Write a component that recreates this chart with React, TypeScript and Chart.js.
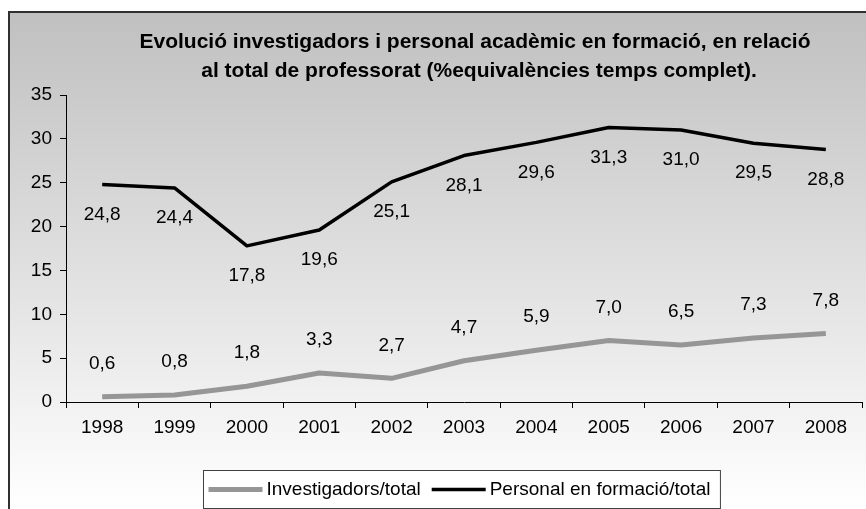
import React, { useEffect, useRef } from "react";
import { Chart, registerables } from "chart.js";

Chart.register(...registerables);

const years = ["1998", "1999", "2000", "2001", "2002", "2003", "2004", "2005", "2006", "2007", "2008"];
const investigadors = [0.6, 0.8, 1.8, 3.3, 2.7, 4.7, 5.9, 7.0, 6.5, 7.3, 7.8];
const personal = [24.8, 24.4, 17.8, 19.6, 25.1, 28.1, 29.6, 31.3, 31.0, 29.5, 28.8];
const titleLines = [
  "Evolució investigadors i personal acadèmic en formació, en relació",
  "al total de professorat (%equivalències temps complet).",
];
const seriesLabels = ["Investigadors/total", "Personal en formació/total"];
const seriesColors = ["#969696", "#000000"];
const seriesWidths = [5, 3.5];
const labelOffsets = [-33, 30];

const FONT = "'Liberation Sans', Arial, sans-serif";

const framePlugin = {
  id: "frame",
  beforeDraw(chart: any) {
    const { ctx, width, height } = chart;
    ctx.save();
    const g = ctx.createLinearGradient(0, 11, 0, height);
    g.addColorStop(0, "#c0c0c0");
    g.addColorStop(0.55, "#e2e2e2");
    g.addColorStop(1, "#ffffff");
    ctx.fillStyle = "#ffffff";
    ctx.fillRect(0, 0, width, height);
    ctx.fillStyle = g;
    ctx.fillRect(9, 12, width + 20, height + 20);
    ctx.strokeStyle = "#303030";
    ctx.lineWidth = 2;
    ctx.strokeRect(9, 12, width + 20, height + 20);
    ctx.restore();
  },
};

const titlePlugin = {
  id: "customTitle",
  afterDraw(chart: any) {
    const { ctx } = chart;
    ctx.save();
    ctx.font = `bold 21px ${FONT}`;
    ctx.fillStyle = "#000";
    ctx.textAlign = "center";
    ctx.textBaseline = "alphabetic";
    ctx.fillText(titleLines[0], 475, 48);
    ctx.fillText(titleLines[1], 479, 77);
    ctx.restore();
  },
};

const valueLabelPlugin = {
  id: "valueLabels",
  afterDatasetsDraw(chart: any) {
    const { ctx } = chart;
    ctx.save();
    ctx.font = `19px ${FONT}`;
    ctx.fillStyle = "#000";
    ctx.textAlign = "center";
    ctx.textBaseline = "middle";
    chart.data.datasets.forEach((ds: any, i: number) => {
      const meta = chart.getDatasetMeta(i);
      meta.data.forEach((pt: any, j: number) => {
        const v = ds.data[j] as number;
        const txt = v.toFixed(1).replace(".", ",");
        ctx.fillText(txt, pt.x, pt.y + labelOffsets[i]);
      });
    });
    ctx.restore();
  },
};

const legendPlugin = {
  id: "customLegend",
  afterDraw(chart: any) {
    const { ctx } = chart;
    ctx.save();
    ctx.font = `19px ${FONT}`;
    const swatch = 54;
    const gapSw = 4;
    const gapItem = 11;
    const padL = 5;
    const padR = 10;
    const widths = seriesLabels.map((l) => ctx.measureText(l).width);
    const total = padL + widths.reduce((a, w) => a + swatch + gapSw + w, 0) + gapItem + padR;
    const left = 203.5;
    const top = 470.5;
    const h = 38;
    ctx.fillStyle = "#ffffff";
    ctx.fillRect(left, top, total, h);
    ctx.strokeStyle = "#404040";
    ctx.lineWidth = 1;
    ctx.strokeRect(left, top, total, h);
    let x = left + padL;
    const cy = top + h / 2;
    seriesLabels.forEach((l, i) => {
      ctx.beginPath();
      ctx.strokeStyle = seriesColors[i];
      ctx.lineWidth = seriesWidths[i];
      ctx.lineCap = "butt";
      ctx.moveTo(x, cy);
      ctx.lineTo(x + swatch, cy);
      ctx.stroke();
      x += swatch + gapSw;
      ctx.fillStyle = "#000";
      ctx.textAlign = "left";
      ctx.textBaseline = "middle";
      ctx.fillText(l, x, cy);
      x += widths[i] + gapItem;
    });
    ctx.restore();
  },
};

export default function App() {
  const ref = useRef<HTMLCanvasElement | null>(null);
  useEffect(() => {
    if (!ref.current) return;
    const chart = new Chart(ref.current, {
      type: "line",
      data: {
        labels: years,
        datasets: [
          {
            label: seriesLabels[0],
            data: investigadors,
            borderColor: seriesColors[0],
            backgroundColor: seriesColors[0],
            borderWidth: seriesWidths[0],
            pointRadius: 0,
            tension: 0,
            borderCapStyle: "butt",
            borderJoinStyle: "round",
          },
          {
            label: seriesLabels[1],
            data: personal,
            borderColor: seriesColors[1],
            backgroundColor: seriesColors[1],
            borderWidth: seriesWidths[1],
            pointRadius: 0,
            tension: 0,
            borderCapStyle: "butt",
            borderJoinStyle: "round",
          },
        ],
      },
      options: {
        responsive: false,
        animation: false,
        layout: { padding: { left: 0, right: 4, top: 95, bottom: 67 } },
        plugins: {
          legend: { display: false },
          title: { display: false },
          tooltip: { enabled: false },
        },
        scales: {
          x: {
            type: "category",
            offset: true,
            grid: {
              offset: true,
              drawOnChartArea: false,
              drawTicks: true,
              tickLength: 6,
              color: "#000",
            },
            border: { display: true, color: "#000", width: 1 },
            ticks: {
              color: "#000",
              font: { family: FONT, size: 19 },
              padding: 8,
              maxRotation: 0,
              autoSkip: false,
            },
            afterFit(scale: any) {
              scale.height = 40;
            },
          },
          y: {
            min: 0,
            max: 35,
            grid: {
              drawOnChartArea: false,
              drawTicks: true,
              tickLength: 6,
              color: "#000",
            },
            border: { display: true, color: "#000", width: 1 },
            ticks: {
              stepSize: 5,
              color: "#000",
              font: { family: FONT, size: 19 },
              padding: 8,
            },
            afterFit(scale: any) {
              scale.width = 66;
            },
          },
        },
      },
      plugins: [framePlugin, titlePlugin, valueLabelPlugin, legendPlugin],
    });
    return () => chart.destroy();
  }, []);
  return (
    <div style={{ position: "fixed", left: 0, top: 0, width: 866, height: 509 }}>
      <canvas ref={ref} width={866} height={509} style={{ display: "block" }} />
    </div>
  );
}
